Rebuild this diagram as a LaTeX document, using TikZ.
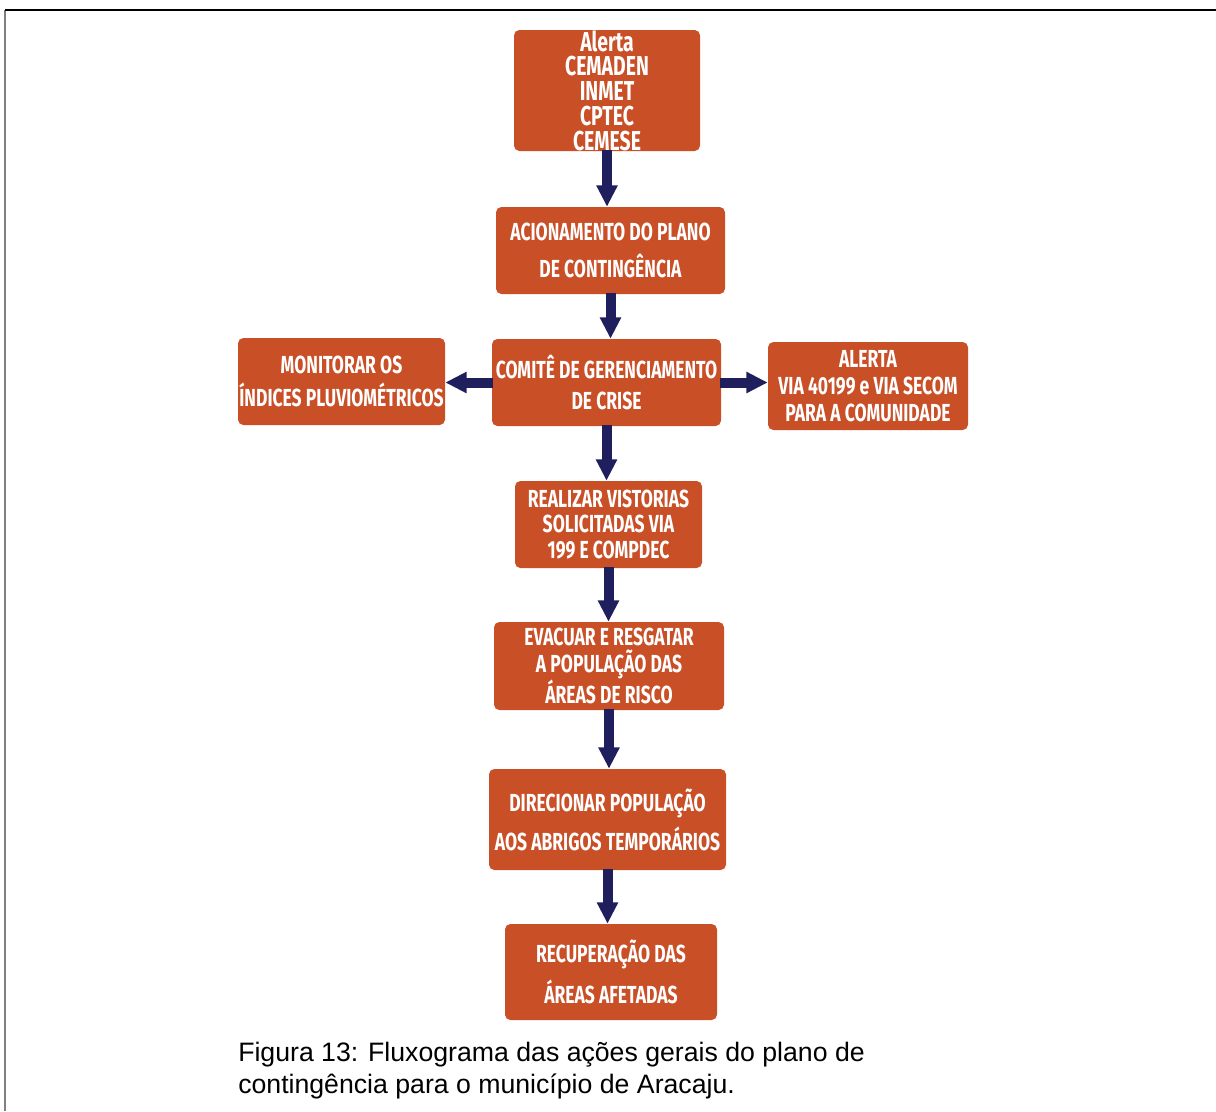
\documentclass[tikz,border=0pt]{standalone}
\usepackage{fontspec}
\setmainfont{Liberation Sans}
\newfontfamily\boxfont[FakeStretch=0.71]{Fira Sans}
\usetikzlibrary{arrows.meta}
\definecolor{boxorange}{HTML}{C94F27}
\definecolor{arrownavy}{HTML}{1E1F5C}
\tikzset{
  flowbox/.style 2 args={draw=none, fill=boxorange, rounded corners=4pt, text=white,
    align=center, inner sep=0pt, minimum width=#1*0.75pt, minimum height=#2*0.75pt},
  lead/.style={font=\boxfont\bfseries\fontsize{18.5}{#1}\selectfont},
  flowarrow/.style={draw=arrownavy, line width=7.5pt,
    -{Triangle[width=15pt,length=16pt]}, shorten <=-1pt},
  frameline/.style={line width=1.5pt}
}
\begin{document}
\begin{tikzpicture}[x=0.75pt, y=-0.75pt]
\useasboundingbox (0,0) rectangle (1216,1111);
% frame
\draw[frameline, draw=gray] (5,1111) -- (5,10);
\draw[frameline, draw=black] (5,10) -- (1216,10);
% boxes
\node[flowbox={186}{121}, font=\boxfont\bfseries\fontsize{20.5}{18.6}\selectfont] (alerta) at (607,90.5)
  {Alerta\\CEMADEN\\INMET\\CPTEC\\CEMESE};
\node[flowbox={229}{87}, lead=27.75pt] (acion) at (610.5,250.5)
  {ACIONAMENTO DO PLANO\\DE CONTINGÊNCIA};
\node[flowbox={229}{87}, lead=23.25pt] (comite) at (606.5,382.5)
  {COMITÊ DE GERENCIAMENTO\\DE CRISE};
\node[flowbox={207}{87}, lead=24.75pt] (monit) at (341.5,381.5)
  {MONITORAR OS\\ÍNDICES PLUVIOMÉTRICOS};
\node[flowbox={200}{88}, lead=20.25pt] (alertacom) at (868,386)
  {ALERTA\\VIA 40199 e VIA SECOM\\PARA A COMUNIDADE};
\node[flowbox={187}{87}, lead=19pt] (vistorias) at (608.5,524.5)
  {REALIZAR VISTORIAS\\SOLICITADAS VIA\\199 E COMPDEC};
\node[flowbox={230}{88}, lead=20.25pt] (evacuar) at (609,666)
  {EVACUAR E RESGATAR\\A POPULAÇÃO DAS\\ÁREAS DE RISCO};
\node[flowbox={237}{101}, lead=29.25pt] (direc) at (607.5,819.5)
  {DIRECIONAR POPULAÇÃO\\AOS ABRIGOS TEMPORÁRIOS};
\node[flowbox={212}{96}, lead=30.75pt] (recup) at (611,972)
  {RECUPERAÇÃO DAS\\ÁREAS AFETADAS};
% arrows
\draw[flowarrow] (alerta.south) -- (alerta.south |- acion.north);
\draw[flowarrow] (acion.south) -- (acion.south |- comite.north);
\draw[flowarrow] (comite.west) -- (comite.west -| monit.east);
\draw[flowarrow] (comite.east) -- (comite.east -| alertacom.west);
\draw[flowarrow] (comite.south) -- (comite.south |- vistorias.north);
\draw[flowarrow] (vistorias.south) -- (vistorias.south |- evacuar.north);
\draw[flowarrow] (evacuar.south) -- (evacuar.south |- direc.north);
\draw[flowarrow] (direc.south) -- (direc.south |- recup.north);
% caption
\node[anchor=north west, inner sep=0pt, align=left,
  font=\fontsize{20}{24}\selectfont] (caption) at (238,1042)
  {Figura 13: Fluxograma das ações gerais do plano de\\contingência para o município de Aracaju.};
\end{tikzpicture}
\end{document}
